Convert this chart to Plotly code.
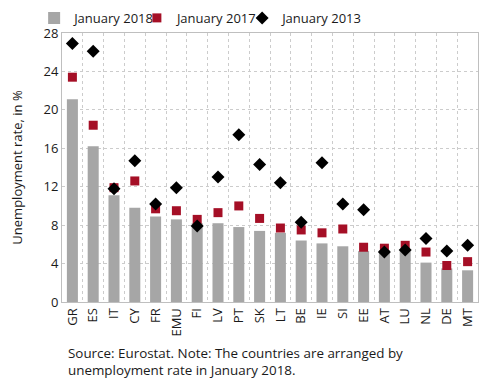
import plotly.graph_objects as go

countries = ["GR", "ES", "IT", "CY", "FR", "EMU", "FI", "LV", "PT", "SK",
             "LT", "BE", "IE", "SI", "EE", "AT", "LU", "NL", "DE", "MT"]
jan2018 = [21.1, 16.2, 11.1, 9.8, 8.9, 8.6, 8.2, 8.2, 7.8, 7.4,
           7.2, 6.4, 6.1, 5.8, 5.3, 5.4, 5.3, 4.1, 3.5, 3.3]
jan2017 = [23.4, 18.4, 11.9, 12.6, 9.7, 9.5, 8.6, 9.3, 10.0, 8.7,
           7.7, 7.5, 7.2, 7.6, 5.7, 5.6, 5.9, 5.2, 3.8, 4.2]
jan2013 = [26.9, 26.1, 11.8, 14.7, 10.2, 11.9, 7.9, 13.0, 17.4, 14.3,
           12.4, 8.3, 14.5, 10.2, 9.6, 5.2, 5.4, 6.6, 5.3, 5.9]
yticks = [0, 4, 8, 12, 16, 20, 24, 28]

FONT = "Open Sans"

fig = go.Figure()
fig.add_trace(go.Bar(x=countries, y=jan2018, name="January 2018", legend="legend",
                     marker=dict(color="#a6a6a6", line=dict(width=0)), width=0.53))
fig.add_trace(go.Scatter(x=countries, y=jan2017, name="January 2017", mode="markers",
                         legend="legend2",
                         marker=dict(symbol="square", size=9, color="#a50f26")))
fig.add_trace(go.Scatter(x=countries, y=jan2013, name="January 2013", mode="markers",
                         legend="legend3",
                         marker=dict(symbol="diamond", size=10, color="#000000")))

leg = dict(orientation="h", y=1.056, yanchor="middle", xanchor="left",
           font=dict(size=13), itemwidth=30, bgcolor="rgba(0,0,0,0)")

fig.update_layout(
    width=482, height=374,
    margin=dict(l=54, r=12, t=25, b=80, autoexpand=False),
    paper_bgcolor="white", plot_bgcolor="white",
    font=dict(family=FONT, size=13, color="#1a1a1a"),
    showlegend=True,
    legend=dict(leg, x=-0.067),
    legend2=dict(leg, x=0.180),
    legend3=dict(leg, x=0.433),
    xaxis=dict(type="category", range=[-0.5, len(countries) - 0.5],
               tickson="boundaries", tickangle=-90, automargin=False,
               showgrid=True, gridcolor="#cccccc", griddash="dot", gridwidth=1,
               showline=True, linecolor="#bfbfbf", mirror=True, ticks="",
               tickfont=dict(size=13)),
    yaxis=dict(range=[0, 28], tickvals=yticks, showgrid=True, gridcolor="#cccccc",
               griddash="dot", gridwidth=1, showline=True, linecolor="#bfbfbf",
               mirror=True, ticks="", zeroline=False, automargin=False,
               title=dict(text="Unemployment rate, in %", font=dict(size=13), standoff=24),
               tickfont=dict(size=13)),
    annotations=[dict(text="Source: Eurostat. Note: The countries are arranged by<br>unemployment rate in January 2018.",
                      xref="paper", yref="paper", x=0.01, y=-0.148, xanchor="left", yanchor="top",
                      align="left", showarrow=False, font=dict(size=13.4))],
)

fig.write_html("out.html")
